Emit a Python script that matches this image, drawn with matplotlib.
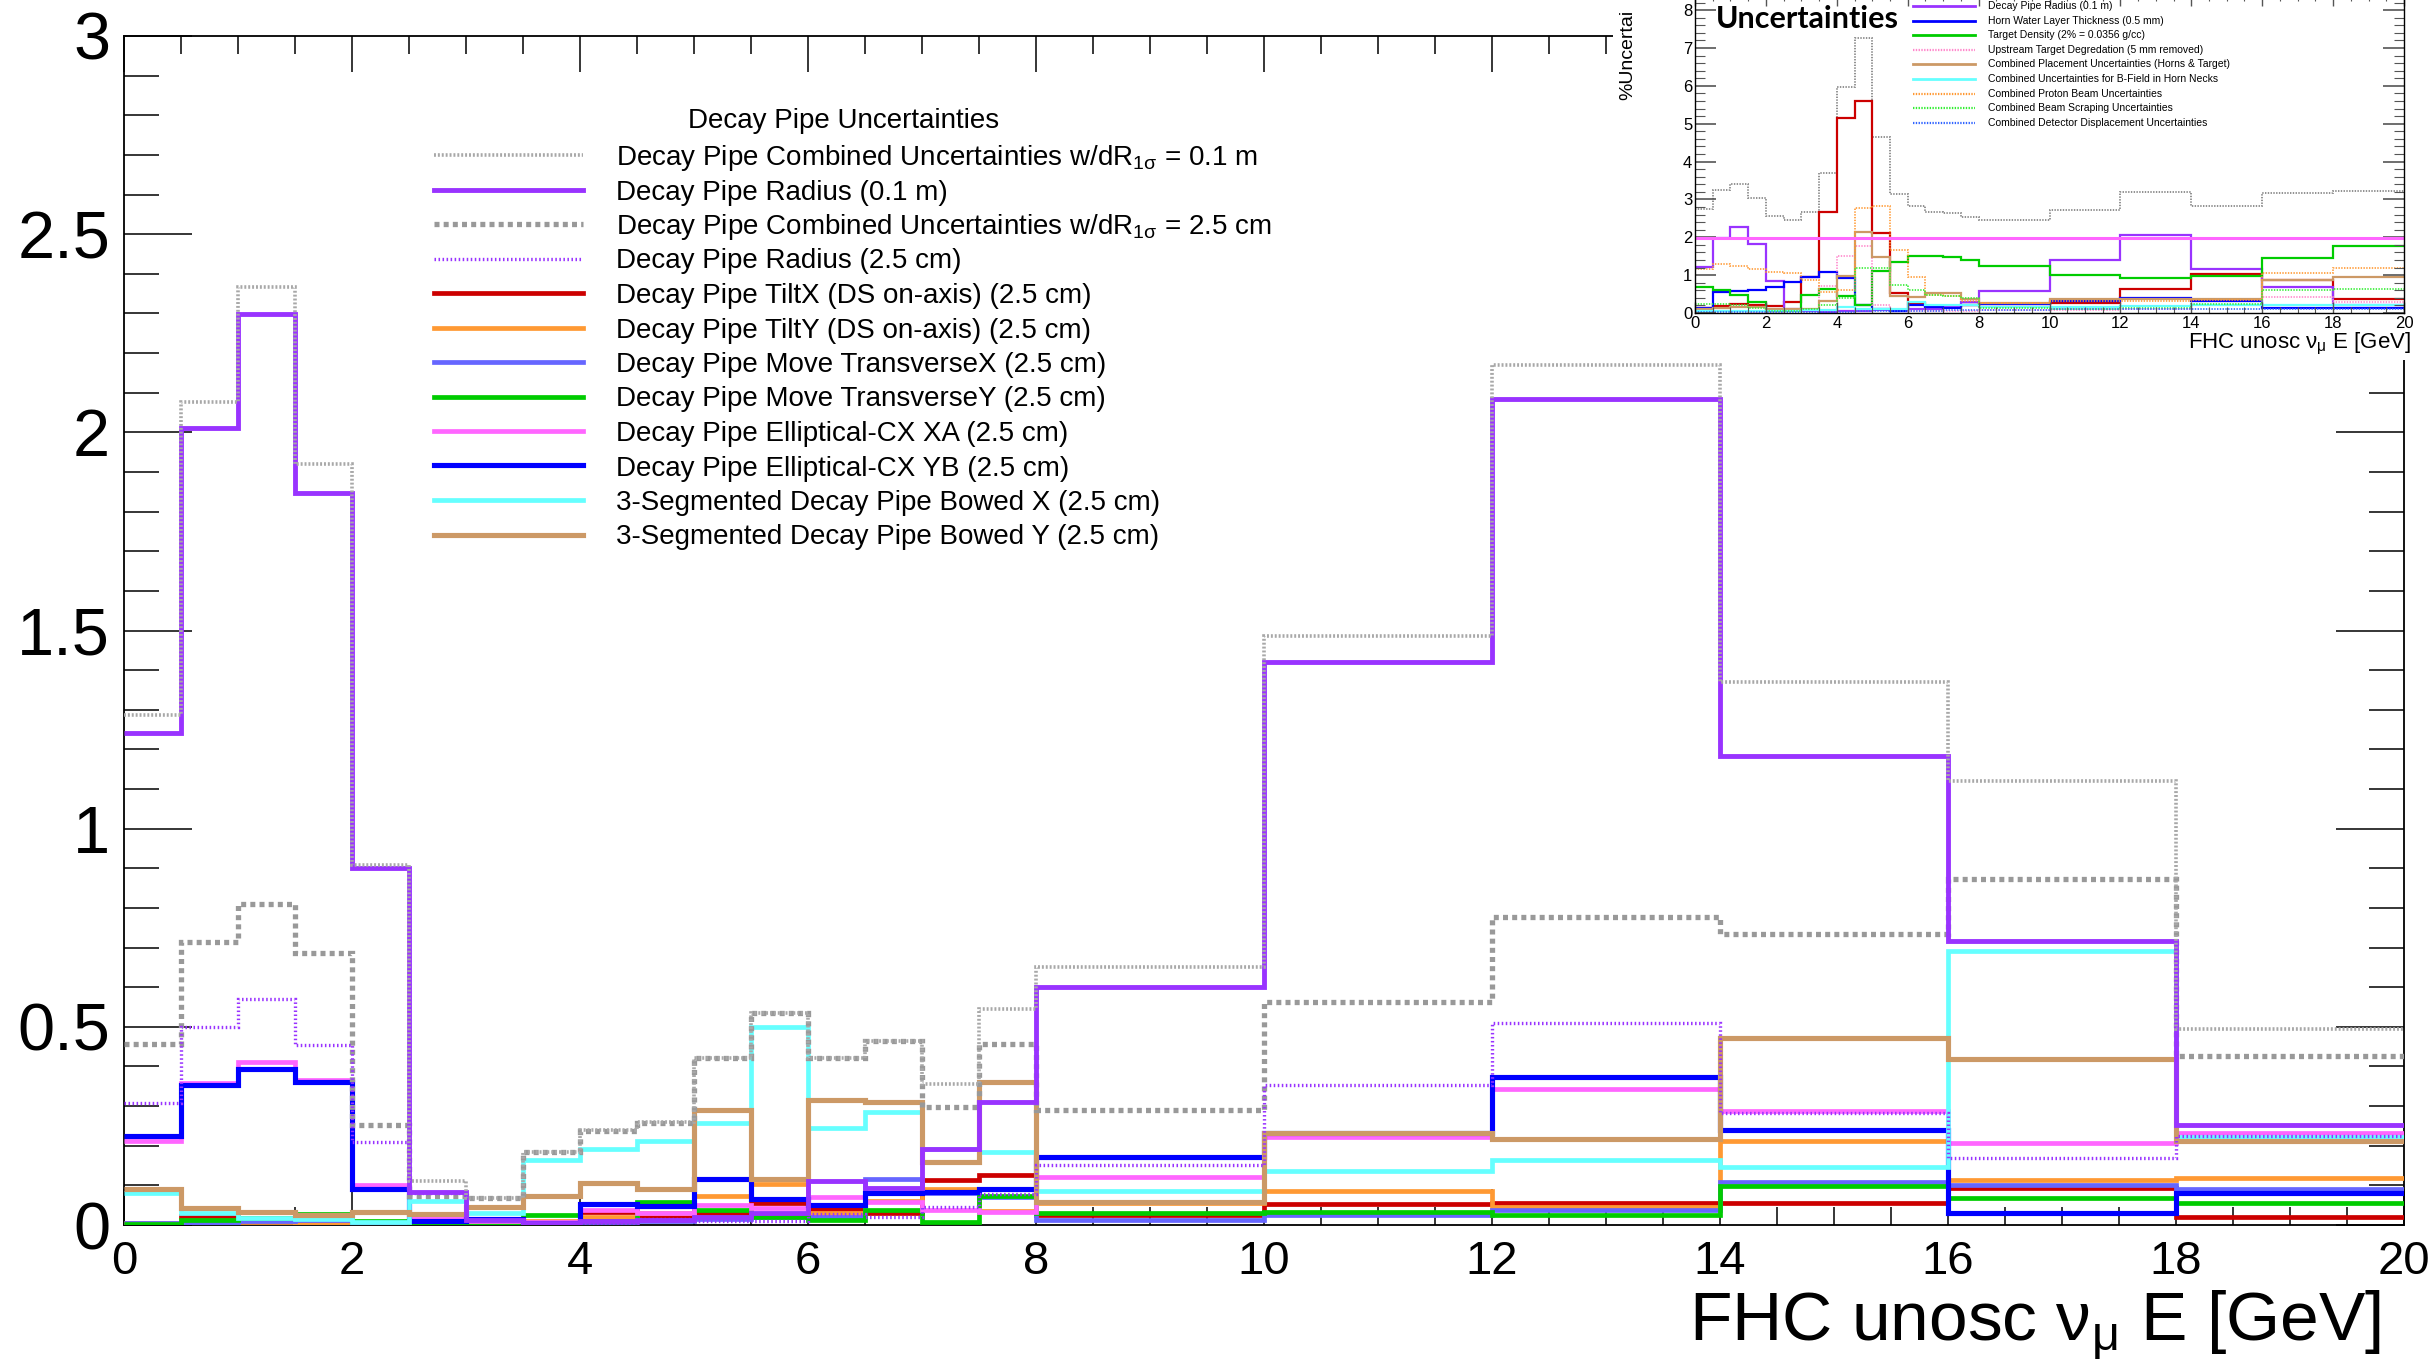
import matplotlib
matplotlib.use('Agg')
import matplotlib.pyplot as plt
from matplotlib.ticker import MultipleLocator
from matplotlib.patches import Rectangle

plt.rcParams['font.family'] = ['Liberation Sans', 'DejaVu Sans']
plt.rcParams['mathtext.fontset'] = 'custom'
plt.rcParams['mathtext.rm'] = 'Liberation Sans'
plt.rcParams['mathtext.it'] = 'Liberation Sans:italic'
plt.rcParams['mathtext.bf'] = 'Liberation Sans:bold'
plt.rcParams['lines.scale_dashes'] = False

# ---------------- data ----------------
edges = [0, 0.5, 1, 1.5, 2, 2.5, 3, 3.5, 4, 4.5, 5, 5.5, 6, 6.5, 7, 7.5, 8, 10, 12, 14, 16, 18, 20]

comb_01 = [1.286, 2.076, 2.367, 1.920, 0.908, 0.112, 0.067, 0.185, 0.240, 0.259, 0.422, 0.536,
           0.422, 0.464, 0.355, 0.546, 0.650, 1.486, 2.170, 1.369, 1.120, 0.495]
radius_01 = [1.241, 2.012, 2.298, 1.848, 0.900, 0.083, 0.012, 0.006, 0.010, 0.012, 0.020, 0.030,
             0.110, 0.093, 0.193, 0.311, 0.600, 1.420, 2.085, 1.184, 0.716, 0.252]
comb_25 = [0.456, 0.714, 0.811, 0.687, 0.253, 0.074, 0.067, 0.185, 0.238, 0.258, 0.422, 0.536,
           0.422, 0.464, 0.298, 0.456, 0.290, 0.563, 0.778, 0.735, 0.872, 0.427]
radius_25 = [0.307, 0.500, 0.571, 0.454, 0.210, 0.080, 0.012, 0.005, 0.002, 0.015, 0.009, 0.011,
             0.028, 0.019, 0.046, 0.077, 0.151, 0.352, 0.510, 0.282, 0.168, 0.225]
tilt_x = [0.004, 0.022, 0.012, 0.008, 0.005, 0.005, 0.005, 0.006, 0.032, 0.022, 0.030, 0.055,
          0.040, 0.030, 0.114, 0.125, 0.026, 0.053, 0.056, 0.056, 0.093, 0.021]
tilt_y = [0.006, 0.010, 0.008, 0.002, 0.004, 0.004, 0.004, 0.010, 0.019, 0.030, 0.072, 0.104,
          0.030, 0.061, 0.091, 0.036, 0.056, 0.086, 0.045, 0.211, 0.114, 0.119]
move_x = [0.004, 0.006, 0.010, 0.013, 0.006, 0.006, 0.006, 0.006, 0.008, 0.011, 0.016, 0.020,
          0.020, 0.117, 0.080, 0.070, 0.013, 0.026, 0.038, 0.108, 0.100, 0.092]
move_y = [0.003, 0.013, 0.018, 0.029, 0.011, 0.004, 0.003, 0.024, 0.010, 0.057, 0.037, 0.019,
          0.013, 0.038, 0.007, 0.074, 0.030, 0.033, 0.025, 0.098, 0.067, 0.056]
ell_xa = [0.211, 0.359, 0.412, 0.365, 0.101, 0.017, 0.010, 0.008, 0.038, 0.030, 0.050, 0.042,
          0.070, 0.058, 0.038, 0.033, 0.120, 0.223, 0.343, 0.288, 0.206, 0.232]
ell_yb = [0.225, 0.353, 0.393, 0.362, 0.091, 0.010, 0.014, 0.006, 0.053, 0.047, 0.117, 0.065,
          0.050, 0.081, 0.084, 0.092, 0.172, 0.231, 0.373, 0.240, 0.030, 0.080]
bowed_x = [0.082, 0.031, 0.018, 0.015, 0.008, 0.061, 0.030, 0.163, 0.191, 0.213, 0.258, 0.499,
           0.244, 0.286, 0.193, 0.185, 0.086, 0.135, 0.163, 0.146, 0.691, 0.221]
bowed_y = [0.091, 0.042, 0.032, 0.025, 0.034, 0.028, 0.046, 0.072, 0.107, 0.091, 0.289, 0.117,
           0.316, 0.311, 0.158, 0.360, 0.058, 0.231, 0.217, 0.473, 0.420, 0.212]

labels = [
    r"Decay Pipe Combined Uncertainties w/dR$_{\mathrm{1\sigma}}$ = 0.1 m",
    "Decay Pipe Radius (0.1 m)",
    r"Decay Pipe Combined Uncertainties w/dR$_{\mathrm{1\sigma}}$ = 2.5 cm",
    "Decay Pipe Radius (2.5 cm)",
    "Decay Pipe TiltX (DS on-axis) (2.5 cm)",
    "Decay Pipe TiltY (DS on-axis) (2.5 cm)",
    "Decay Pipe Move TransverseX (2.5 cm)",
    "Decay Pipe Move TransverseY (2.5 cm)",
    "Decay Pipe Elliptical-CX XA (2.5 cm)",
    "Decay Pipe Elliptical-CX YB (2.5 cm)",
    "3-Segmented Decay Pipe Bowed X (2.5 cm)",
    "3-Segmented Decay Pipe Bowed Y (2.5 cm)",
]
legend_title = "Decay Pipe Uncertainties"
x_title = r"FHC unosc ν$_{\mathrm{\mu}}$ E [GeV]"
y_ticks = [0, 0.5, 1, 1.5, 2, 2.5, 3]
y_ticklabels = ["0", "0.5", "1", "1.5", "2", "2.5", "3"]
x_ticks = [0, 2, 4, 6, 8, 10, 12, 14, 16, 18, 20]

# inset data
inset_total = [2.75, 3.24, 3.41, 3.04, 2.55, 2.45, 2.66, 3.71, 5.97, 7.26, 4.65, 3.14,
               2.83, 2.68, 2.64, 2.54, 2.46, 2.73, 3.19, 2.82, 3.17, 3.21]
inset_red = [0.13, 0.18, 0.25, 0.22, 0.19, 0.28, 0.95, 2.67, 5.15, 5.59, 2.11, 0.53,
             0.26, 0.19, 0.18, 0.20, 0.25, 0.26, 0.63, 1.04, 0.88, 0.37]
inset_flat = [1.97]
inset_radius = [1.21, 1.99, 2.27, 1.82, 0.85, 0.10, 0.05, 0.03, 0.05, 0.05, 0.07, 0.05,
                0.10, 0.10, 0.18, 0.30, 0.57, 1.41, 2.07, 1.16, 0.69, 0.22]
inset_horn = [0.13, 0.55, 0.58, 0.62, 0.69, 0.82, 0.95, 1.07, 0.92, 0.22, 0.11, 0.06,
              0.20, 0.16, 0.13, 0.22, 0.25, 0.31, 0.40, 0.33, 0.13, 0.12]
inset_density = [0.69, 0.60, 0.48, 0.28, 0.04, 0.09, 0.48, 0.63, 0.44, 0.20, 1.10, 1.36,
                 1.51, 1.50, 1.48, 1.39, 1.23, 1.00, 0.92, 0.97, 1.45, 1.76]
inset_upstream = [0.04, 0.04, 0.04, 0.03, 0.03, 0.04, 0.10, 0.72, 1.50, 1.78, 0.22, 0.10,
                  0.06, 0.05, 0.05, 0.06, 0.08, 0.08, 0.10, 0.20, 0.41, 0.30]
inset_placement = [0.10, 0.12, 0.15, 0.15, 0.10, 0.10, 0.10, 0.31, 0.97, 2.13, 1.47, 0.46,
                   0.42, 0.53, 0.53, 0.37, 0.26, 0.37, 0.38, 0.38, 0.86, 0.95]
inset_bfield = [0.05, 0.05, 0.05, 0.05, 0.05, 0.05, 0.08, 0.08, 0.15, 0.10, 0.10, 0.10,
                0.28, 0.22, 0.20, 0.20, 0.17, 0.17, 0.18, 0.20, 0.20, 0.22]
inset_proton = [1.16, 1.30, 1.23, 1.16, 1.07, 1.06, 0.88, 0.55, 0.62, 2.77, 2.82, 1.67,
                0.95, 0.48, 0.44, 0.33, 0.26, 0.31, 0.31, 0.35, 1.06, 1.19]
inset_scraping = [0.25, 0.25, 0.20, 0.13, 0.05, 0.05, 0.10, 0.20, 0.40, 1.19, 1.19, 0.75,
                  0.62, 0.48, 0.46, 0.40, 0.13, 0.10, 0.13, 0.25, 0.60, 0.63]
inset_detector = [0.03, 0.03, 0.03, 0.03, 0.03, 0.03, 0.03, 0.03, 0.03, 0.04, 0.05, 0.05,
                  0.06, 0.06, 0.07, 0.07, 0.09, 0.10, 0.10, 0.10, 0.10, 0.10]
inset_labels = [
    "Decay Pipe Radius (0.1 m)",
    "Horn Water Layer Thickness (0.5 mm)",
    "Target Density (2% = 0.0356 g/cc)",
    "Upstream Target Degredation (5 mm removed)",
    "Combined Placement Uncertainties (Horns & Target)",
    "Combined Uncertainties for B-Field in Horn Necks",
    "Combined Proton Beam Uncertainties",
    "Combined Beam Scraping Uncertainties",
    "Combined Detector Displacement Uncertainties",
]
inset_title = "Uncertainties"
inset_ylabel = "%Uncertai"   # the reference shows the label cut at the image top

# ---------------- styles ----------------
PURPLE = '#9933ff'
RED = '#cc0000'
ORANGE = '#ff9933'
PERI = '#6666ff'
GREEN = '#00cc00'
PINK = '#ff66ff'
BLUE = '#0000ff'
CYAN = '#66ffff'
BROWN = '#cc9966'
GRAY_F = '#a8a8a8'
GRAY_C = '#999999'

FINE = (0, (1.4, 1.4))
COARSE = (0, (3.6, 3.0))
DOT = (0, (1.1, 1.8))

main_series = [
    (comb_01, GRAY_F, 2.6, FINE, 8),
    (radius_01, PURPLE, 3.5, '-', 7),
    (comb_25, GRAY_C, 3.8, COARSE, 6),
    (radius_25, PURPLE, 2.4, DOT, 6),
    (tilt_x, RED, 3.4, '-', 3),
    (tilt_y, ORANGE, 3.4, '-', 3),
    (move_x, PERI, 3.4, '-', 3),
    (move_y, GREEN, 3.4, '-', 3),
    (ell_xa, PINK, 3.4, '-', 4),
    (ell_yb, BLUE, 3.7, '-', 4),
    (bowed_x, CYAN, 3.4, '-', 4),
    (bowed_y, BROWN, 3.7, '-', 5),
]

W, H = 2432, 1359
fig = plt.figure(figsize=(W / 100, H / 100), dpi=100)
fig.patch.set_facecolor('white')


def fx(px):
    return px / W


def fy(py):
    return 1 - py / H


# ---------------- main axes ----------------
ax = fig.add_axes([fx(124), fy(1225), fx(2404) - fx(124), fy(36) - fy(1225)])
for vals, col, lw, ls, z in main_series:
    ax.stairs(vals, edges, baseline=None, color=col, lw=lw, linestyle=ls, zorder=z)

ax.set_xlim(0, 20)
ax.set_ylim(0, 3)
ax.set_yticks(y_ticks)
ax.set_yticklabels(y_ticklabels)
ax.set_xticks(x_ticks)
ax.set_xticklabels([str(t) for t in x_ticks])
ax.yaxis.set_minor_locator(MultipleLocator(0.1))
ax.xaxis.set_minor_locator(MultipleLocator(0.5))
ax.tick_params(axis='both', which='both', direction='in', top=True, right=True, color='black')
ax.tick_params(axis='y', which='major', length=49, width=1.1, labelsize=48, pad=10)
ax.tick_params(axis='y', which='minor', length=25, width=1.1)
ax.tick_params(axis='x', which='major', length=26, width=1.1, labelsize=34, pad=11)
ax.tick_params(axis='x', which='minor', length=13, width=1.1)
for s in ax.spines.values():
    s.set_linewidth(1.3)
ax.set_xlabel(x_title, fontsize=50, loc='right', labelpad=3)
ax.xaxis.label.set_x(0.99)

# legend (manual, ROOT TLegend style)
trans = fig.transFigure
fig.text(fx(844), fy(121), legend_title, fontsize=20, ha='center', va='center', zorder=20)
row0, drow = 155, 34.5
for i, ((vals, col, lw, ls, z), lab) in enumerate(zip(main_series, labels)):
    yy = fy(row0 + i * drow)
    fig.add_artist(plt.Line2D([fx(434), fx(583)], [yy, yy], color=col, lw=lw, linestyle=ls,
                              transform=trans, zorder=20))
    fig.text(fx(616), fy(row0 + i * drow + 10), lab, fontsize=20, ha='left', va='baseline',
             zorder=20)

# ---------------- inset ----------------
fig.add_artist(Rectangle((fx(1613), fy(360)), 1 - fx(1613), fy(0) - fy(360), transform=trans,
                         facecolor='white', edgecolor='none', zorder=30))
iax = fig.add_axes([fx(1695), fy(313), fx(2404) - fx(1695), fy(-5) - fy(313)], zorder=31)
inset_series = [
    (inset_total, '#888888', 1.3, (0, (1.0, 1.0))),
    (inset_red, RED, 1.6, '-'),
    (inset_radius, PURPLE, 1.6, '-'),
    (inset_horn, BLUE, 1.6, '-'),
    (inset_density, GREEN, 1.6, '-'),
    (inset_upstream, '#ff88cc', 1.2, (0, (1.0, 1.0))),
    (inset_placement, BROWN, 1.6, '-'),
    (inset_bfield, CYAN, 1.6, '-'),
    (inset_proton, ORANGE, 1.2, (0, (1.0, 1.0))),
    (inset_scraping, '#33ee33', 1.2, (0, (1.0, 1.0))),
    (inset_detector, '#3366ff', 1.2, (0, (1.0, 1.0))),
]
for vals, col, lw, ls in inset_series:
    iax.stairs(vals, edges, baseline=None, color=col, lw=lw, linestyle=ls)
iax.hlines(inset_flat, edges[0], edges[-1], color=PINK, lw=2.2)
iax.set_xlim(0, 20)
iax.set_ylim(0, 8.4)
iax.set_yticks(range(0, 9))
iax.set_xticks(x_ticks)
iax.yaxis.set_minor_locator(MultipleLocator(0.2))
iax.xaxis.set_minor_locator(MultipleLocator(0.5))
iax.tick_params(axis='both', which='both', direction='in', top=True, right=True,
                color='#555555')
iax.tick_params(axis='y', which='major', length=15, width=1.2, labelsize=12, pad=2)
iax.tick_params(axis='y', which='minor', length=7, width=0.8)
iax.tick_params(axis='x', which='major', length=8, width=1.0, labelsize=12, pad=2)
iax.tick_params(axis='x', which='minor', length=4, width=0.8)
for s in iax.spines.values():
    s.set_linewidth(1.0)
iax.set_xlabel(x_title, fontsize=16, loc='right', labelpad=0)
iax.xaxis.label.set_x(1.01)

# inset legend
ileg_styles = [s for s in inset_series[2:]]
for i, ((vals, col, lw, ls), lab) in enumerate(zip(ileg_styles, inset_labels)):
    yy = fy(6 + i * 14.6)
    fig.add_artist(plt.Line2D([fx(1913), fx(1975)], [yy, yy], color=col, lw=lw + 0.4,
                              linestyle=ls, transform=trans, zorder=40))
    fig.text(fx(1988), yy, lab, fontsize=7.5, ha='left', va='center', zorder=40)

fig.text(fx(1716), fy(28), inset_title, fontsize=22, fontweight='bold', family='Lato',
         ha='left', va='baseline', zorder=40)
fig.text(fx(1628), fy(100), inset_ylabel, fontsize=14, rotation=90, ha='center', va='bottom',
         zorder=40)

fig.savefig('out.png', dpi=100, facecolor='white')
